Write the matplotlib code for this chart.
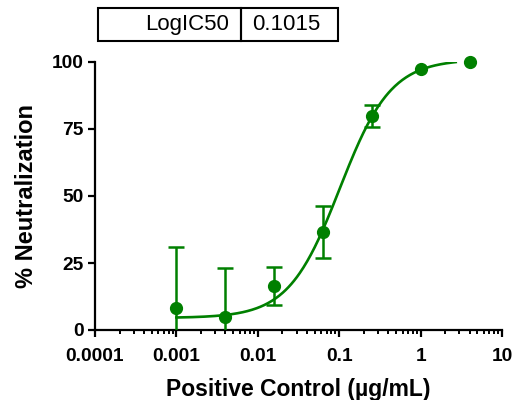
import numpy as np
import matplotlib
matplotlib.use("Agg")
import matplotlib.pyplot as plt
from matplotlib.patches import Rectangle
from matplotlib.ticker import LogLocator, NullFormatter, FixedLocator, FixedFormatter

plt.rcParams['font.family'] = ['Liberation Sans', 'DejaVu Sans']

# Data
conc = [0.0009765625, 0.00390625, 0.015625, 0.0625, 0.25, 1.0, 4.0]
neut = [8.2, 5.0, 16.5, 36.5, 79.8, 97.3, 100.1]
sd = [22.8, 18.1, 7.0, 9.7, 4.0, 0.0, 0.0]

# 4PL fit parameters
fit_bottom = 4.5
fit_top = 101.0
fit_ic50 = 0.1015
fit_hill = 1.38
fit_range = (0.001, 2.7)

xticks = [0.0001, 0.001, 0.01, 0.1, 1, 10]
xticklabels = ['0.0001', '0.001', '0.01', '0.1', '1', '10']
yticks = [0, 25, 50, 75, 100]
table_labels = ['LogIC50', '0.1015']

green = '#008000'

fig = plt.figure(figsize=(5.18, 4.0), dpi=100)
ax = fig.add_axes([95/518, 1-330/400, (502-95)/518, (330-62)/400])

xs = np.logspace(np.log10(fit_range[0]), np.log10(fit_range[1]), 300)
ys = fit_bottom + (fit_top - fit_bottom) / (1 + (fit_ic50 / xs) ** fit_hill)
ax.plot(xs, ys, color=green, lw=1.9, zorder=2)

eb = [(c, n, s) for c, n, s in zip(conc, neut, sd) if s > 0]
ax.errorbar([e[0] for e in eb], [e[1] for e in eb], yerr=[e[2] for e in eb],
            fmt='none', ecolor=green, elinewidth=1.8,
            capsize=5.5, capthick=1.8, zorder=3)
ax.plot(conc, neut, 'o', color=green, ms=8.5, zorder=4, clip_on=False)

ax.set_xscale('log')
ax.set_xlim(1e-4, 10)
ax.set_ylim(0, 100)

ax.xaxis.set_major_locator(FixedLocator(xticks))
ax.xaxis.set_major_formatter(FixedFormatter(xticklabels))
ax.xaxis.set_minor_locator(LogLocator(base=10, subs=np.arange(2, 10), numticks=20))
ax.xaxis.set_minor_formatter(NullFormatter())
ax.set_yticks(yticks)

for s in ['top', 'right']:
    ax.spines[s].set_visible(False)
for s in ['left', 'bottom']:
    ax.spines[s].set_linewidth(1.6)

ax.tick_params(axis='both', which='major', length=5, width=1.6, direction='out',
               labelsize=13.8)
ax.tick_params(axis='x', which='minor', length=3, width=1.4, direction='out')
ax.tick_params(axis='x', which='major', pad=8)
ax.tick_params(axis='y', which='major', pad=3)
for lbl in ax.get_xticklabels() + ax.get_yticklabels():
    lbl.set_fontweight('bold')

ax.set_xlabel('Positive Control (µg/mL)', fontsize=16.5, fontweight='bold', labelpad=9)
ax.set_ylabel('% Neutralization', fontsize=17, fontweight='bold', labelpad=10)

# Table at top
W, H = 518, 400
x0, x1, x2 = 98, 241, 338
y0, y1 = 8, 41
for (a, b) in [(x0, x1), (x1, x2)]:
    fig.add_artist(Rectangle((a/W, 1-y1/H), (b-a)/W, (y1-y0)/H, fill=False,
                             lw=1.5, ec='black', transform=fig.transFigure))
fig.text(229/W, 1-24.5/H, table_labels[0], ha='right', va='center', fontsize=16)
fig.text(286/W, 1-24.5/H, table_labels[1], ha='center', va='center', fontsize=16)

fig.savefig('out.png', dpi=100)
